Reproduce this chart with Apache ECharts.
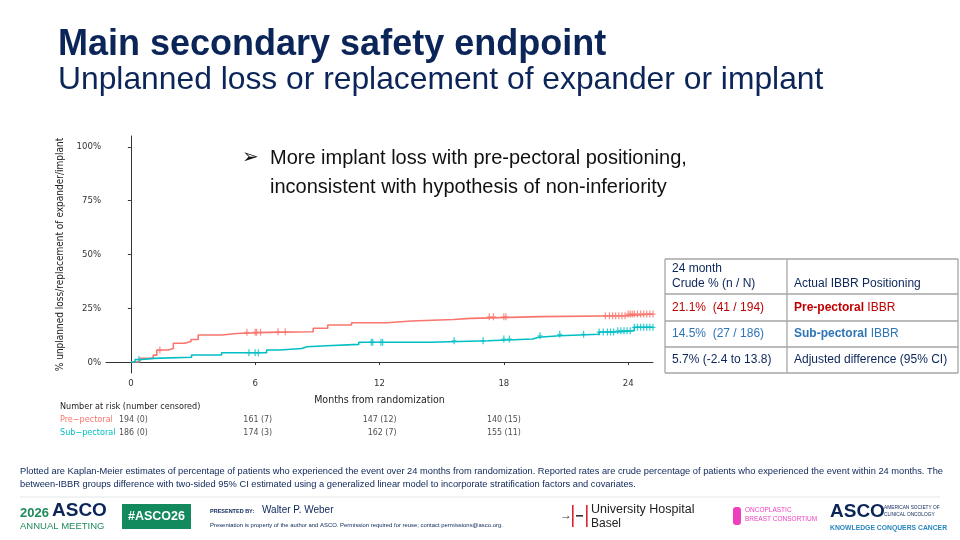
<!DOCTYPE html>
<html>
<head>
<meta charset="utf-8">
<script src="https://cdn.jsdelivr.net/npm/echarts@6/dist/echarts.min.js"></script>
<style>
	html, body { margin: 0; padding: 0; background: #fff; }
	#chart { width: 960px; height: 540px; }
</style>
</head>
<body>
<div id="chart"></div>
<script>
// Kaplan-Meier steps (months, % with event)
var preTime = [0, 0.43, 1.08, 1.25, 1.8, 2.05, 2.6, 2.9, 3.25, 4.4, 5.1, 6.6, 8.8, 9.5, 10.65, 12.35, 13.55, 15.56, 16.4, 19.75, 23.9];
var preRate = [0, 1.7, 3.2, 5.6, 6.3, 8.7, 9.5, 10.5, 12.6, 13.3, 13.8, 14.1, 15.7, 17.2, 18.3, 19.1, 19.8, 20.3, 21.1, 21.5, 22.3];
var subTime = [0, 0.2, 0.5, 1.08, 2.93, 4.38, 6.55, 7.2, 8.24, 8.5, 9.45, 11.0, 14.44, 17.25, 19.4, 19.67, 20.7, 22.6, 23.45, 24.3];
var subRate = [0, 1.2, 1.7, 2.2, 3.3, 4.3, 5.6, 6.3, 7.1, 7.6, 8.2, 9.2, 9.9, 10.7, 11.5, 12.2, 12.9, 13.95, 14.6, 16.2];
var followEnd = 25.2;

// censoring times
var preCensor = [1.4, 5.6, 6.0, 6.07, 6.26, 7.1, 7.45, 17.3, 17.5, 18.0, 18.1, 22.9, 23.1, 23.25, 23.4, 23.55, 23.7, 23.85, 24.0, 24.1, 24.2, 24.3, 24.45, 24.6, 24.75, 24.9, 25.05, 25.2];
var subCensor = [0.39, 5.7, 6.0, 6.15, 11.6, 11.67, 12.07, 12.15, 15.6, 17.0, 18.0, 18.27, 19.75, 20.7, 21.85, 22.6, 22.8, 23.0, 23.15, 23.3, 23.5, 23.65, 23.8, 23.95, 24.1, 24.3, 24.45, 24.6, 24.75, 24.9, 25.05, 25.2];

var xTicks = [0, 6, 12, 18, 24];
var yTicks = [0, 25, 50, 75, 100];

// number at risk table
var groups = ['Pre\u2212pectoral', 'Sub\u2212pectoral'];
var riskTimes = [0, 6, 12, 18];
var preAtRisk = [194, 161, 147, 140];
var preCens = [0, 7, 12, 15];
var subAtRisk = [186, 174, 162, 155];
var subCens = [0, 3, 7, 11];

var RED = '#F8766D';
var BLUE = '#00BFC4';
var NAVY = '#0b2559';
var plotFont = "'Liberation Sans Narrow', 'DejaVu Sans Condensed', sans-serif";
var slideFont = "'Liberation Sans', Arial, sans-serif";

function stepData(t, v) {
	var d = [];
	for (var i = 0; i < t.length; i++) d.push([t[i], v[i]]);
	d.push([followEnd, v[v.length - 1]]);
	return d;
}

// value of the step curve at time x (for placing censor marks on it)
function censorData(t, v, times) {
	var d = [];
	for (var i = 0; i < times.length; i++) {
		var y = 0;
		for (var j = 0; j < t.length; j++) {
			if (t[j] <= times[i]) y = v[j];
		}
		d.push([times[i], y]);
	}
	return d;
}

function riskData(group, n, c) {
	var d = [];
	for (var i = 0; i < riskTimes.length; i++) {
		d.push({ value: [riskTimes[i], group], label: { formatter: n[i] + ' (' + c[i] + ')' } });
	}
	return d;
}

var plusSymbol = 'path://M2,0h1.3v7h-1.3z M0,3h5.3v1.2h-5.3z';

var chartDom = document.getElementById('chart');
var chart = echarts.init(chartDom);

var tableX = 665, tableMid = 787, tableR = 958;
var rowY = [259, 294, 321, 347, 373];
var tableLines = [];
for (var r = 0; r < rowY.length; r++) {
	tableLines.push({ type: 'line', shape: { x1: tableX, y1: rowY[r], x2: tableR, y2: rowY[r] }, style: { stroke: '#a6a6a6', lineWidth: 1.3 } });
}
[tableX, tableMid, tableR].forEach(function (x) {
	tableLines.push({ type: 'line', shape: { x1: x, y1: rowY[0], x2: x, y2: rowY[4] }, style: { stroke: '#a6a6a6', lineWidth: 1.3 } });
});

function txt(x, y, text, size, color, extra) {
	var s = { text: text, fontSize: size, fill: color, fontFamily: slideFont, verticalAlign: 'middle' };
	for (var k in extra) s[k] = extra[k];
	return { type: 'text', x: x, y: y, style: s };
}

var riskLabel = { show: true, position: 'inside', align: 'right', offset: [17, 0], fontFamily: plotFont, fontSize: 8.8, color: '#222' };

var option = {
	backgroundColor: '#fff',
	animation: false,
	grid: [
		{ left: 106, width: 547, top: 136, height: 237 },
		{ left: 106, width: 547, top: 413.5, height: 26 }
	],
	xAxis: [{
		gridIndex: 0,
		type: 'value',
		min: -1.2,
		max: 25.2,
		name: 'Months from randomization',
		nameLocation: 'middle',
		nameGap: 22,
		nameTextStyle: { fontFamily: plotFont, fontSize: 10.5, color: '#222' },
		axisLine: { show: true, lineStyle: { color: '#333', width: 1 } },
		axisTick: { show: true, customValues: xTicks, length: 3, lineStyle: { color: '#333' } },
		axisLabel: { customValues: xTicks, fontFamily: plotFont, fontSize: 9.5, color: '#333', margin: 6 },
		splitLine: { show: false }
	}, {
		gridIndex: 1,
		type: 'value',
		min: -1.2,
		max: 25.2,
		show: false
	}],
	yAxis: [{
		gridIndex: 0,
		type: 'value',
		min: -5.1,
		max: 105.1,
		name: '% unplanned loss/replacement of expander/implant',
		nameLocation: 'middle',
		nameGap: 34,
		nameTextStyle: { fontFamily: plotFont, fontSize: 10, color: '#222' },
		axisLine: { show: true, lineStyle: { color: '#333', width: 1 } },
		axisTick: { show: true, customValues: yTicks, length: 3, lineStyle: { color: '#333' } },
		axisLabel: { customValues: yTicks, formatter: '{value}%', fontFamily: plotFont, fontSize: 9.5, color: '#333', margin: 5 },
		splitLine: { show: false }
	}, {
		gridIndex: 1,
		type: 'category',
		data: groups,
		inverse: true,
		axisLine: { show: false },
		axisTick: { show: false },
		axisLabel: {
			interval: 0,
			align: 'left',
			margin: 46,
			fontFamily: plotFont,
			fontSize: 9,
			color: function (value) { return value === groups[0] ? RED : BLUE; }
		}
	}],
	series: [{
		name: groups[0],
		type: 'line',
		step: 'end',
		data: stepData(preTime, preRate),
		symbol: 'none',
		lineStyle: { color: RED, width: 1.6 },
		z: 3
	}, {
		name: groups[1],
		type: 'line',
		step: 'end',
		data: stepData(subTime, subRate),
		symbol: 'none',
		lineStyle: { color: BLUE, width: 1.6 },
		z: 4
	}, {
		type: 'scatter',
		data: censorData(preTime, preRate, preCensor),
		symbol: plusSymbol,
		symbolSize: [5, 7],
		itemStyle: { color: RED },
		z: 5
	}, {
		type: 'scatter',
		data: censorData(subTime, subRate, subCensor),
		symbol: plusSymbol,
		symbolSize: [5, 7],
		itemStyle: { color: BLUE },
		z: 6
	}, {
		type: 'scatter',
		xAxisIndex: 1,
		yAxisIndex: 1,
		symbolSize: 0,
		data: riskData(groups[0], preAtRisk, preCens),
		label: riskLabel
	}, {
		type: 'scatter',
		xAxisIndex: 1,
		yAxisIndex: 1,
		symbolSize: 0,
		data: riskData(groups[1], subAtRisk, subCens),
		label: riskLabel
	}],
	graphic: [
		txt(58, 45, 'Main secondary safety endpoint', 36, NAVY, { fontWeight: 'bold' }),
		txt(58, 80, 'Unplanned loss or replacement of expander or implant', 31.8, NAVY),
		txt(242, 158, '\u27A2', 20, '#111', { fontFamily: "'DejaVu Sans', sans-serif" }),
		txt(270, 158, 'More implant loss with pre-pectoral positioning,', 20, '#111'),
		txt(270, 187, 'inconsistent with hypothesis of non-inferiority', 20, '#111'),
		txt(60, 407, 'Number at risk (number censored)', 9, '#222', { fontFamily: plotFont }),

		{ type: 'group', children: tableLines },
		txt(672, 269, '24 month', 12, NAVY),
		txt(672, 284, 'Crude % (n / N)', 12, NAVY),
		txt(794, 284, 'Actual IBBR Positioning', 12, NAVY),
		txt(672, 308, '21.1%  (41 / 194)', 12, '#c00000'),
		{
			type: 'text', x: 794, y: 308,
			style: {
				text: '{b|Pre-pectoral} IBBR', fontSize: 12, fill: '#c00000', fontFamily: slideFont, verticalAlign: 'middle',
				rich: { b: { fontWeight: 'bold', fontSize: 12, fill: '#c00000', fontFamily: slideFont } }
			}
		},
		txt(672, 334, '14.5%  (27 / 186)', 12, '#2e75b6'),
		{
			type: 'text', x: 794, y: 334,
			style: {
				text: '{b|Sub-pectoral} IBBR', fontSize: 12, fill: '#2e75b6', fontFamily: slideFont, verticalAlign: 'middle',
				rich: { b: { fontWeight: 'bold', fontSize: 12, fill: '#2e75b6', fontFamily: slideFont } }
			}
		},
		txt(672, 360, '5.7% (-2.4 to 13.8)', 12, NAVY),
		txt(794, 360, 'Adjusted difference (95% CI)', 12, NAVY),

		txt(20, 471, 'Plotted are Kaplan-Meier estimates of percentage of patients who experienced the event over 24 months from randomization. Reported rates are crude percentage of patients who experienced the event within 24 months. The', 9.3, NAVY),
		txt(20, 484, 'between-IBBR groups difference with two-sided 95% CI estimated using a generalized linear model to incorporate stratification factors and covariates.', 9.3, NAVY),
		{ type: 'line', shape: { x1: 20, y1: 497, x2: 940, y2: 497 }, style: { stroke: '#e3e6ea', lineWidth: 1 } },

		txt(20, 513, '2026', 13, '#1f8a5b', { fontWeight: 'bold' }),
		txt(52, 511, 'ASCO', 19, NAVY, { fontWeight: 'bold' }),
		txt(20, 526, 'ANNUAL MEETING', 9.5, '#1f8a5b'),
		{ type: 'rect', shape: { x: 122, y: 504, width: 69, height: 25 }, style: { fill: '#138a5e' } },
		txt(156.5, 516.5, '#ASCO26', 12.5, '#fff', { fontWeight: 'bold', align: 'center' }),
		txt(210, 511, 'PRESENTED BY:', 5.5, NAVY, { fontWeight: 'bold' }),
		txt(262, 510, 'Walter P. Weber', 10, NAVY),
		txt(210, 525, 'Presentation is property of the author and ASCO. Permission required for reuse; contact permissions@asco.org.', 5.9, NAVY),

		txt(560, 516, '\u2192', 12, '#333'),
		{ type: 'rect', shape: { x: 572, y: 505, width: 1.6, height: 22 }, style: { fill: '#d7262e' } },
		{ type: 'rect', shape: { x: 576, y: 515, width: 7, height: 1.6 }, style: { fill: '#333' } },
		{ type: 'rect', shape: { x: 586, y: 505, width: 1.6, height: 22 }, style: { fill: '#d7262e' } },
		txt(591, 510, 'University Hospital', 12.5, '#222'),
		txt(591, 524, 'Basel', 12, '#222'),

		{ type: 'rect', shape: { x: 733, y: 507, width: 8, height: 18, r: 3 }, style: { fill: '#ee3fbf' } },
		txt(745, 510, 'ONCOPLASTIC', 6.5, '#ee3fbf'),
		txt(745, 519, 'BREAST CONSORTIUM', 6.5, '#ee3fbf'),

		txt(830, 512, 'ASCO', 19, NAVY, { fontWeight: 'bold' }),
		txt(884, 508, 'AMERICAN SOCIETY OF', 4.8, NAVY),
		txt(884, 515, 'CLINICAL ONCOLOGY', 4.8, NAVY),
		txt(830, 528, 'KNOWLEDGE CONQUERS CANCER', 6.8, '#2a86c0', { fontWeight: 'bold' })
	]
};
chart.setOption(option);
</script>
</body>
</html>
